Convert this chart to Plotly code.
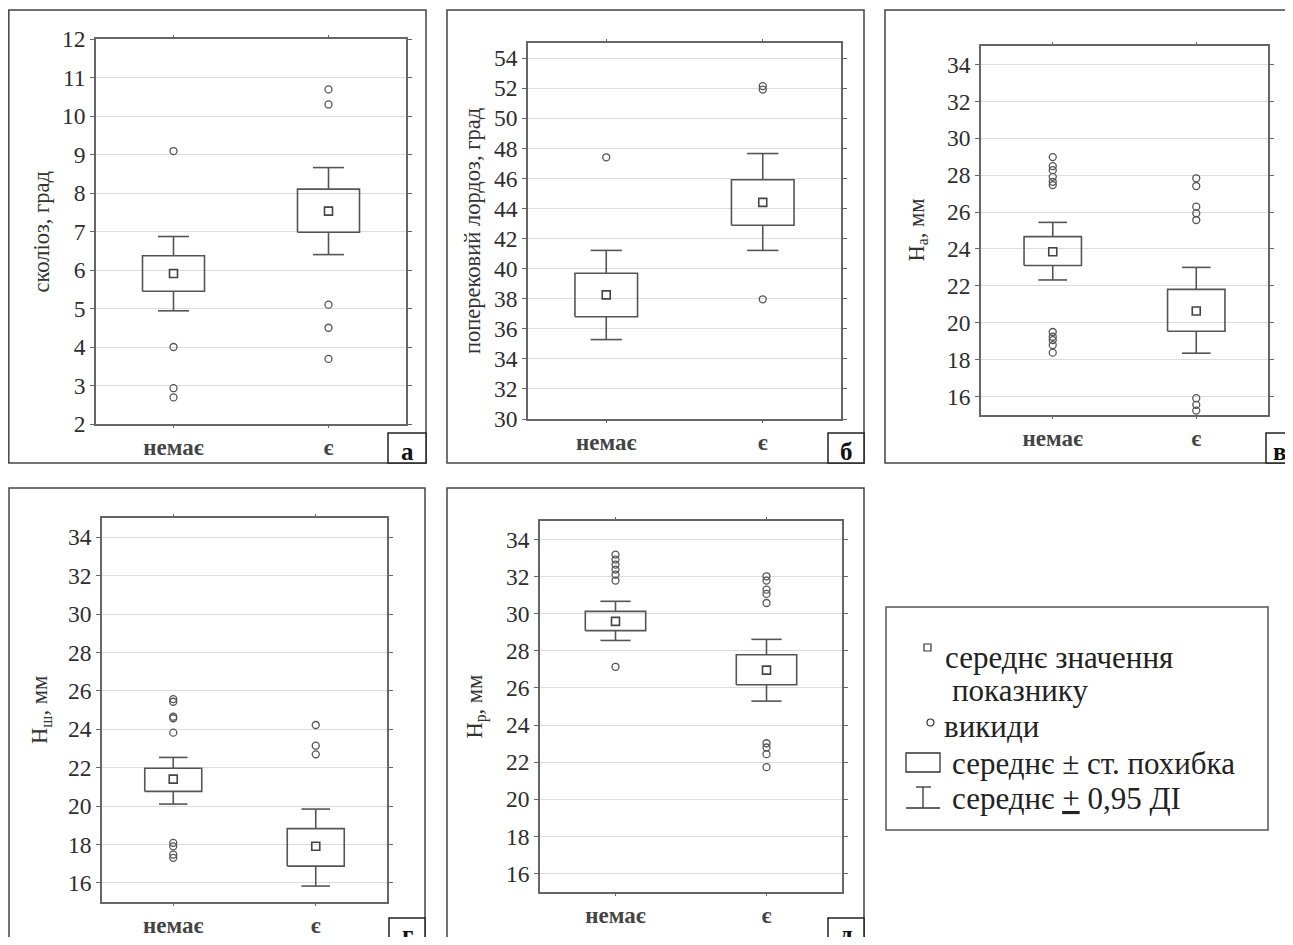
import plotly.graph_objects as go

# page body has an 8px default margin; figure is sized to fit inside the window
OFF = 8
W, H = 1293 - 2 * OFF, 945 - 2 * OFF
groups = ["немає", "є"]

# ---- panel а: сколіоз, град
a_mean = [5.91, 7.53]
a_se_lo = [5.45, 6.98]
a_se_hi = [6.37, 8.10]
a_ci_lo = [4.94, 6.40]
a_ci_hi = [6.87, 8.66]
a_out_0 = [9.09, 4.00, 2.93, 2.69]
a_out_1 = [10.69, 10.30, 5.10, 4.50, 3.69]

# ---- panel б: поперековий лордоз, град
b_mean = [38.25, 44.40]
b_se_lo = [36.80, 42.88]
b_se_hi = [39.69, 45.91]
b_ci_lo = [35.28, 41.21]
b_ci_hi = [41.21, 47.65]
b_out_0 = [47.40]
b_out_1 = [52.13, 51.90, 37.96]

# ---- panel в: Hа, мм
c_mean = [23.85, 20.64]
c_se_lo = [23.10, 19.54]
c_se_hi = [24.67, 21.81]
c_ci_lo = [22.32, 18.35]
c_ci_hi = [25.44, 23.00]
c_out_0 = [28.98, 28.49, 28.27, 27.91, 27.64, 27.46, 19.50, 19.24, 19.06, 18.79, 18.38]
c_out_1 = [27.83, 27.41, 26.29, 25.93, 25.57, 15.91, 15.55, 15.24]

# ---- panel г: Hш, мм
d_mean = [21.40, 17.90]
d_se_lo = [20.76, 16.87]
d_se_hi = [21.97, 18.82]
d_ci_lo = [20.10, 15.83]
d_ci_hi = [22.53, 19.84]
d_out_0 = [25.57, 25.43, 24.65, 24.57, 23.82, 18.08, 17.90, 17.47, 17.30]
d_out_1 = [24.22, 23.14, 22.69]

# ---- panel д: Hр, мм
e_mean = [29.59, 26.96]
e_se_lo = [29.09, 26.17]
e_se_hi = [30.13, 27.79]
e_ci_lo = [28.56, 25.29]
e_ci_hi = [30.67, 28.62]
e_out_0 = [33.19, 32.92, 32.65, 32.38, 32.11, 31.79, 27.14]
e_out_1 = [32.02, 31.79, 31.30, 31.07, 30.58, 23.02, 22.79, 22.43, 21.73]

panels = [
    dict(letter="а", title="сколіоз, град", rng=[2, 12], ticks=list(range(2, 13)),
         mean=a_mean, se_lo=a_se_lo, se_hi=a_se_hi, ci_lo=a_ci_lo, ci_hi=a_ci_hi, out=[a_out_0, a_out_1],
         plot=(96, 406, 39, 424), frame=(8.8, 426, 10, 463), lab=(388, 426, 433, 463), tx=41),
    dict(letter="б", title="поперековий лордоз, град", rng=[30, 55], ticks=list(range(30, 55, 2)),
         mean=b_mean, se_lo=b_se_lo, se_hi=b_se_hi, ci_lo=b_ci_lo, ci_hi=b_ci_hi, out=[b_out_0, b_out_1],
         plot=(528, 841, 43, 419), frame=(447, 864, 10, 463), lab=(828, 864, 433, 463), tx=472),
    dict(letter="в", title="H<sub>а</sub>, мм", rng=[15, 35], ticks=list(range(16, 35, 2)),
         mean=c_mean, se_lo=c_se_lo, se_hi=c_se_hi, ci_lo=c_ci_lo, ci_hi=c_ci_hi, out=[c_out_0, c_out_1],
         plot=(981, 1268, 46, 415), frame=(885, 1300, 10, 463), lab=(1266, 1300, 433, 463), tx=917),
    dict(letter="г", title="H<sub>ш</sub>, мм", rng=[15, 35], ticks=list(range(16, 35, 2)),
         mean=d_mean, se_lo=d_se_lo, se_hi=d_se_hi, ci_lo=d_ci_lo, ci_hi=d_ci_hi, out=[d_out_0, d_out_1],
         plot=(102, 387, 518, 902), frame=(9, 425, 488, 950), lab=(389, 425, 918, 950), tx=41),
    dict(letter="д", title="H<sub>р</sub>, мм", rng=[15, 35], ticks=list(range(16, 35, 2)),
         mean=e_mean, se_lo=e_se_lo, se_hi=e_se_hi, ci_lo=e_ci_lo, ci_hi=e_ci_hi, out=[e_out_0, e_out_1],
         plot=(540, 842, 521, 892), frame=(447, 864, 488, 950), lab=(828, 864, 918, 950), tx=476),
]

SERIF = "Liberation Serif"
LINE = "#555555"
BOX_HALF = 0.2   # half width of the SE box, in category units
CAP_HALF = 0.1   # half width of the CI whisker cap
fig = go.Figure()
shapes, annotations = [], []


def px(x):
    return (x - OFF) / W


def py(y):
    return 1 - (y - OFF) / H


for i, p in enumerate(panels):
    k = "" if i == 0 else str(i + 1)
    xa, ya = "x" + k, "y" + k
    l, r, t, b = p["plot"]
    for g in range(2):
        lo, hi = p["se_lo"][g], p["se_hi"][g]
        cl, ch = p["ci_lo"][g], p["ci_hi"][g]
        bx = [g - BOX_HALF, g + BOX_HALF, g + BOX_HALF, g - BOX_HALF, g - BOX_HALF, None,
              g, g, None, g, g, None, g - CAP_HALF, g + CAP_HALF, None, g - CAP_HALF, g + CAP_HALF]
        by = [lo, lo, hi, hi, lo, None, hi, ch, None, lo, cl, None, ch, ch, None, cl, cl]
        fig.add_trace(go.Scatter(
            x=bx, y=by, mode="lines", line=dict(color=LINE, width=1.6),
            xaxis=xa, yaxis=ya, showlegend=False, hoverinfo="skip"))
        fig.add_trace(go.Scatter(
            x=[g] * len(p["out"][g]), y=p["out"][g], mode="markers",
            marker=dict(symbol="circle-open", size=7, color=LINE, line=dict(width=1.3)),
            xaxis=xa, yaxis=ya, showlegend=False, hoverinfo="skip"))
    fig.add_trace(go.Scatter(
        x=[0, 1], y=p["mean"], mode="markers",
        marker=dict(symbol="square-open", size=8, color="#444", line=dict(width=1.6)),
        xaxis=xa, yaxis=ya, showlegend=False, hoverinfo="skip"))

    fig.layout["xaxis" + k] = dict(
        domain=[px(l), px(r)], anchor=ya, range=[-0.5, 1.5], automargin=False,
        tickvals=[0, 1], ticktext=["<b>%s</b>" % s for s in groups],
        tickfont=dict(family=SERIF, size=23, color="#444"),
        showgrid=False, zeroline=False, showline=True, linecolor="#666", linewidth=1.5,
        mirror="ticks", ticks="outside", ticklen=2, tickcolor="#666")
    fig.layout["yaxis" + k] = dict(
        domain=[py(b), py(t)], anchor=xa, range=p["rng"], tickvals=p["ticks"], automargin=False,
        tickfont=dict(family=SERIF, size=23.5, color="#2e2e2e"),
        showgrid=True, gridcolor="#dcdcdc", gridwidth=1.2, zeroline=False,
        showline=True, linecolor="#666", linewidth=1.5,
        mirror="ticks", ticks="outside", ticklen=4, tickcolor="#666")

    fl, fr, ft, fb = p["frame"]
    shapes.append(dict(type="rect", xref="paper", yref="paper", x0=px(fl), x1=px(fr), y0=py(fb), y1=py(ft),
                       line=dict(color="#444", width=1.5), fillcolor="rgba(0,0,0,0)", layer="below"))
    ll, lr, lt, lb = p["lab"]
    shapes.append(dict(type="rect", xref="paper", yref="paper", x0=px(ll), x1=px(lr), y0=py(lb), y1=py(lt),
                       line=dict(color="#222", width=1.5), fillcolor="white"))
    annotations.append(dict(text="<b>%s</b>" % p["letter"], xref="paper", yref="paper",
                            x=px((ll + min(lr, 1293)) / 2), y=py((lt + min(lb, 945)) / 2 + 3),
                            showarrow=False, font=dict(family=SERIF, size=25, color="#111"),
                            xanchor="center", yanchor="middle"))
    annotations.append(dict(text=p["title"], xref="paper", yref="paper", x=px(p["tx"]), y=py((t + b) / 2),
                            textangle=-90, showarrow=False, font=dict(family=SERIF, size=22.5, color="#333"),
                            xanchor="center", yanchor="middle"))

# ---- legend box
shapes.append(dict(type="rect", xref="paper", yref="paper", x0=px(886), x1=px(1268), y0=py(830), y1=py(607),
                   line=dict(color="#555", width=1.5), fillcolor="white"))
shapes.append(dict(type="rect", xref="paper", yref="paper", x0=px(924), x1=px(931), y0=py(651), y1=py(644),
                   line=dict(color="#333", width=1.2)))
shapes.append(dict(type="circle", xref="paper", yref="paper", x0=px(927), x1=px(934), y0=py(726), y1=py(719),
                   line=dict(color="#333", width=1.2)))
shapes.append(dict(type="rect", xref="paper", yref="paper", x0=px(906), x1=px(940), y0=py(772), y1=py(753),
                   line=dict(color="#333", width=1.3)))
for x0, x1, y0, y1 in [(906, 940, 808, 808), (923, 923, 787, 808), (916, 931, 787, 787)]:
    shapes.append(dict(type="line", xref="paper", yref="paper", x0=px(x0), x1=px(x1), y0=py(y0), y1=py(y1),
                       line=dict(color="#333", width=1.3)))

leg_lines = [
    ("середнє значення", 943, 657),
    ("показнику", 950, 690),
    ("викиди", 942, 726),
    ("середнє ± ст. похибка", 950, 763),
    ("середнє <u>+</u> 0,95 ДІ", 950, 798),
]
for txt, x, y in leg_lines:
    annotations.append(dict(text=txt, xref="paper", yref="paper", x=px(x), y=py(y), showarrow=False,
                            xanchor="left", yanchor="middle", font=dict(family=SERIF, size=31, color="#222")))

fig.update_layout(width=W, height=H, margin=dict(l=0, r=0, t=0, b=0, autoexpand=False),
                  paper_bgcolor="white", plot_bgcolor="white", font=dict(family=SERIF),
                  shapes=shapes, annotations=annotations, showlegend=False)
fig.write_html("out.html")
